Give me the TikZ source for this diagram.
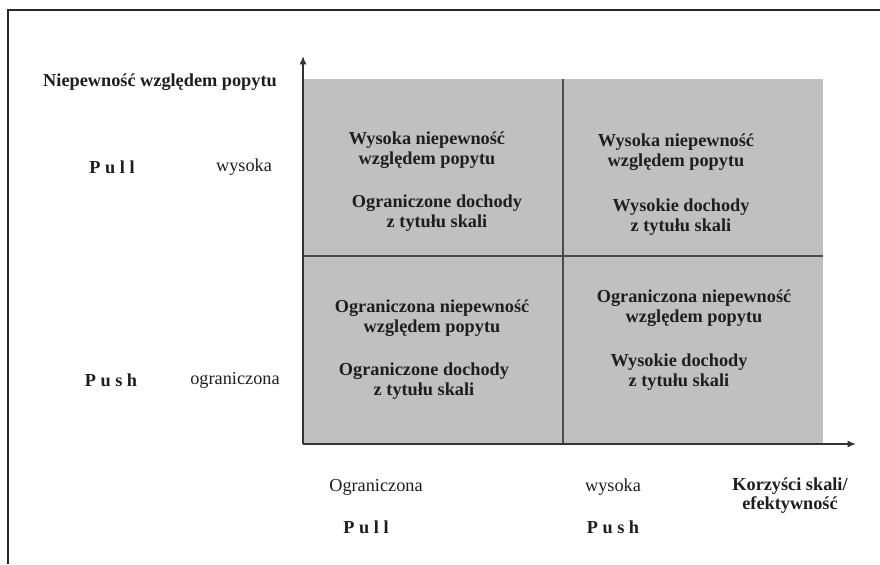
\documentclass[tikz,border=0pt]{standalone}
\usepackage{fontspec}
\setmainfont{Liberation Serif}
\usepackage{xcolor}
\usepackage{tikz}
\usetikzlibrary{arrows.meta}
\definecolor{quadGrey}{HTML}{C0C0C0}
\definecolor{lineGrey}{HTML}{4A4A4A}
\definecolor{inkGrey}{HTML}{1E1E1E}
\tikzset{style quad/.style={
    font=\fontsize{13}{14.2}\selectfont\bfseries,
    text=inkGrey,
    align=center,
    inner sep=0pt
  },
  style side/.style={
    font=\fontsize{13}{13.6}\selectfont,
    text=inkGrey,
    align=center,
    inner sep=0pt
  },
  style sidebold/.style={
    style side,
    font=\fontsize{13}{13.6}\selectfont\bfseries
  },
  style axis/.style={
    draw=black!80,
    line width=1pt,
    -{Latex[length=6pt,width=5pt]}
  },
  style split/.style={
    draw=lineGrey,
    line width=1.3pt
  }
}
\begin{document}
\begin{tikzpicture}
      \useasboundingbox (0,0) rectangle (22,14.1);
      % frame
      \draw[line width=0.9pt,black!85] (0.2,0) -- (0.2,13.85) -- (22,13.85);
      % matrix
      \fill[quadGrey] (7.575,3.0) rectangle (20.575,12.125);
      \coordinate (o) at (7.575,3.0);
      \coordinate (ytop) at (7.575,12.7);
      \coordinate (xend) at (21.4,3.0);
      \coordinate (vtop) at (14.075,12.125);
      \coordinate (vbot) at (14.075,3.0);
      \coordinate (hleft) at (7.575,7.7);
      \coordinate (hright) at (20.575,7.7);
      \draw[style split] (vbot) -- (vtop);
      \draw[style split] (hleft) -- (hright);
      \draw[style axis] (o) -- (ytop);
      \draw[style axis] (o) -- (xend);
      % labels of the vertical axis
      \node[style quad] (ytitle) at (4.0,12.05) {Niepewność względem popytu};
      \node[style sidebold] (ypull) at (2.8,9.925) {P u l l};
      \node[style side] (yhigh) at (6.1,9.925) {wysoka};
      \node[style sidebold] (ypush) at (2.775,4.6) {P u s h};
      \node[style side] (ylow) at (5.875,4.6) {ograniczona};
      % quadrants
      \node[style quad] (q1a) at (10.675,10.35) {Wysoka niepewność\\względem popytu};
      \node[style quad] (q1b) at (10.925,8.775) {Ograniczone dochody\\z tytułu skali};
      \node[style quad] (q2a) at (16.9,10.3) {Wysoka niepewność\\względem popytu};
      \node[style quad] (q2b) at (17.025,8.675) {Wysokie dochody\\z tytułu skali};
      \node[style quad] (q3a) at (10.8,6.15) {Ograniczona niepewność\\względem popytu};
      \node[style quad] (q3b) at (10.6,4.575) {Ograniczone dochody\\z tytułu skali};
      \node[style quad] (q4a) at (17.35,6.4) {Ograniczona niepewność\\względem popytu};
      \node[style quad] (q4b) at (16.975,4.8) {Wysokie dochody\\z tytułu skali};
      % labels of the horizontal axis
      \node[style side] (xlow) at (9.4,1.925) {Ograniczona};
      \node[style sidebold] (xpull) at (9.15,0.925) {P u l l};
      \node[style side] (xhigh) at (15.325,1.925) {wysoka};
      \node[style sidebold] (xpush) at (15.325,0.925) {P u s h};
      \node[style sidebold] (xtitle) at (19.75,1.7) {Korzyści skali/\\efektywność};
    \end{tikzpicture}
\end{document}
